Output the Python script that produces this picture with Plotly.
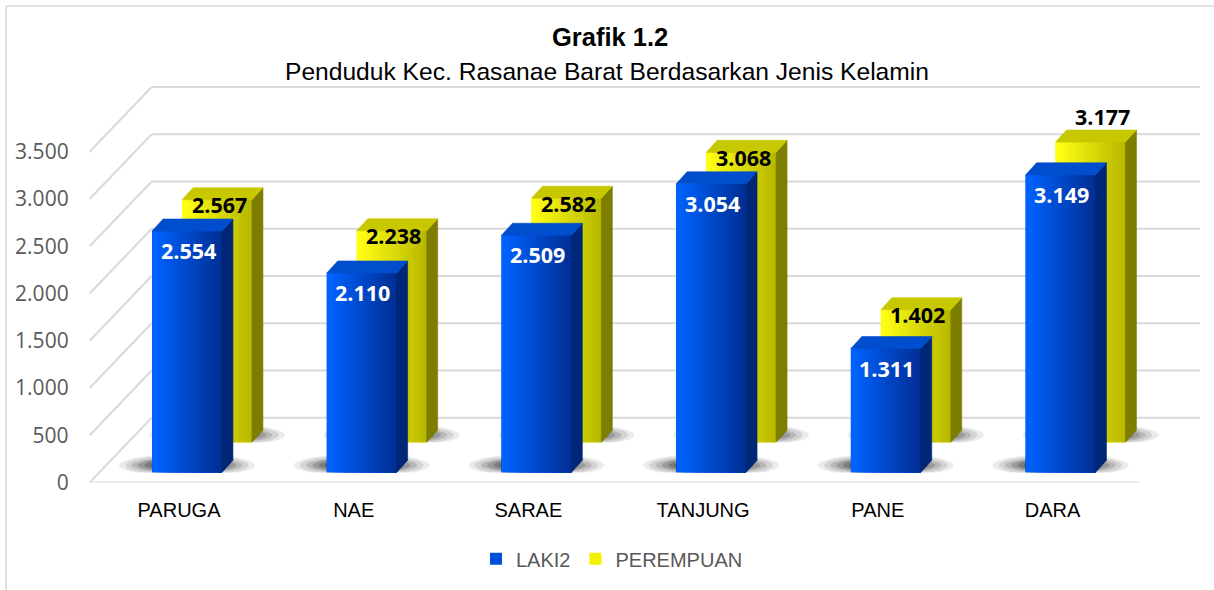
import plotly.graph_objects as go

# ---------------- data ----------------
categories = ["PARUGA", "NAE", "SARAE", "TANJUNG", "PANE", "DARA"]
laki2 = [2554, 2110, 2509, 3054, 1311, 3149]
perempuan = [2567, 2238, 2582, 3068, 1402, 3177]
y_ticks = [0, 500, 1000, 1500, 2000, 2500, 3000, 3500]

title_main = "Grafik 1.2"
title_sub = "Penduduk Kec. Rasanae Barat Berdasarkan Jenis Kelamin"

# ---------------- layout geometry (reference pixels) ----------------
W, REF_H = 1214, 590
PAGE_H = 606              # page height that the photographed viewport covers
VS = PAGE_H / REF_H       # vertical pixel compensation

def fx(px):
    return px / W
def fy(px):
    return 1 - px / REF_H

CAT_PX = 174.7            # pixels per category
N = len(categories)
Y_MAX = 4500
Y_SPAN_PX = 423           # reference pixels for 0..Y_MAX
PX_PER_UNIT = Y_SPAN_PX / Y_MAX

front_left = 91.65        # front plane x domain start
blue_dx, blue_base = 8, 470
yel_dx, yel_base = 38, 440
front_base = 480
WALL_DX, WALL_DY = 62, 63
BAR_W = 0.40
DEPTH_X = 11 / CAT_PX       # bar depth in category units
DEPTH_Y = 12 / PX_PER_UNIT  # bar depth in value units

def xdom(left):
    return [fx(left), fx(left + CAT_PX * N)]
def ydom(base):
    return [fy(base), fy(base - Y_SPAN_PX)]

NARROW = "Liberation Sans Narrow, Arial Narrow, Liberation Sans, Arial, sans-serif"
LBL = "Open Sans, Lato, sans-serif"

idx = list(range(N))

fig = go.Figure()
# yellow on x2/y2 (drawn first = behind), blue on x3/y3
fig.add_trace(go.Bar(x=idx, y=perempuan, name="PEREMPUAN", xaxis="x2", yaxis="y2",
                     width=BAR_W, marker=dict(color="#f2f200", line=dict(width=0)),
                     legendrank=2, hoverinfo="y"))
fig.add_trace(go.Bar(x=idx, y=laki2, name="LAKI2", xaxis="x3", yaxis="y3",
                     width=BAR_W, marker=dict(color="#0050d8", line=dict(width=0)),
                     legendrank=1, hoverinfo="y"))

shapes = []
GRID = "#d9d9d9"
# gridlines: left wall diagonal + back wall horizontal
for v in y_ticks:
    shapes.append(dict(type="line", layer="below", xref="paper", yref="y",
                       x0=fx(front_left - 2), x1=fx(front_left - 2 + WALL_DX),
                       ysizemode="pixel", yanchor=v, y0=0, y1=WALL_DY * VS,
                       line=dict(color=GRID, width=2)))
    shapes.append(dict(type="line", layer="below", xref="paper", yref="y",
                       x0=fx(front_left - 2 + WALL_DX), x1=fx(1200),
                       ysizemode="pixel", yanchor=v, y0=WALL_DY * VS, y1=WALL_DY * VS,
                       line=dict(color=GRID, width=2)))
# floor front edge
shapes.append(dict(type="line", layer="below", xref="paper", yref="y",
                   x0=fx(front_left - 2), x1=fx(front_left + CAT_PX * N),
                   y0=0, y1=0, line=dict(color=GRID, width=2)))
# chart border (only top and left edges are inside the picture)
shapes.append(dict(type="line", layer="below", xref="paper", yref="paper",
                   x0=fx(6), x1=1, y0=fy(6), y1=fy(6), line=dict(color="#d9d9d9", width=1.5)))
shapes.append(dict(type="line", layer="below", xref="paper", yref="paper",
                   x0=fx(6), x1=fx(6), y0=fy(6), y1=0, line=dict(color="#d9d9d9", width=1.5)))


def lerp(c1, c2, t):
    return "rgb(%d,%d,%d)" % tuple(round(a + (b - a) * t) for a, b in zip(c1, c2))


def bar3d(values, xr, yr, left_c, right_c, side_c, top_c):
    out = []
    half_px = BAR_W * CAT_PX / 2
    # soft shadows on the floor
    layers = [(1.08, -4, 18, 0.08), (0.98, -3, 17, 0.10), (0.88, -1, 15, 0.13),
              (0.78, 0, 14, 0.16), (0.68, 1, 13, 0.2), (0.58, 2, 12, 0.24)]
    for i, v in enumerate(values):
        for wf, h0, h1, op in layers:
            out.append(dict(type="circle", layer="above", xref=xr, yref=yr,
                            xsizemode="pixel", xanchor=i, x0=-half_px * 1.8 * wf, x1=half_px * 1.8 * wf,
                            ysizemode="pixel", yanchor=0, y0=h0 * VS, y1=h1 * VS,
                            fillcolor="rgba(0,0,0,%.2f)" % op, line=dict(width=0)))
    NS = 16
    for i, v in enumerate(values):
        xl, xrr = i - BAR_W / 2, i + BAR_W / 2
        # front face: horizontal gradient made of overlapping strips
        for k in range(NS):
            c = lerp(left_c, right_c, k / (NS - 1))
            out.append(dict(type="rect", layer="above", xref=xr, yref=yr,
                            x0=xl + k * BAR_W / NS, x1=xrr,
                            y0=0, y1=v, fillcolor=c, line=dict(width=0)))
        # side face
        out.append(dict(type="path", layer="above", xref=xr, yref=yr,
                        path=f"M {xrr},0 L {xrr + DEPTH_X},{DEPTH_Y} L {xrr + DEPTH_X},{v + DEPTH_Y} L {xrr},{v} Z",
                        fillcolor=side_c, line=dict(color=side_c, width=0.6)))
        # top face
        out.append(dict(type="path", layer="above", xref=xr, yref=yr,
                        path=f"M {xl},{v} L {xrr},{v} L {xrr + DEPTH_X},{v + DEPTH_Y} L {xl + DEPTH_X},{v + DEPTH_Y} Z",
                        fillcolor=top_c, line=dict(color=top_c, width=0.6)))
    return out

shapes += bar3d(perempuan, "x2", "y2", (255, 255, 20), (185, 185, 0), "rgb(125,125,0)", "rgb(200,200,0)")
shapes += bar3d(laki2, "x3", "y3", (0, 98, 255), (0, 48, 150), "rgb(0,38,120)", "rgb(0,78,205)")


def fmt(v):
    return f"{v:,}".replace(",", ".")

annotations = []
top_yel = max(perempuan)
for i, v in enumerate(perempuan):
    above = v == top_yel
    annotations.append(dict(x=i, y=v, xref="x2", yref="y2", text=fmt(v), showarrow=False,
                            xshift=12 if above else 2, yshift=(25 if above else -5) * VS,
                            font=dict(family=LBL, size=21.5, color="black", weight="bold")))
for i, v in enumerate(laki2):
    annotations.append(dict(x=i, y=v, xref="x3", yref="y3", text=fmt(v), showarrow=False,
                            xshift=1, yshift=-19 * VS,
                            font=dict(family=LBL, size=21.5, color="white", weight="bold")))
# title
annotations.append(dict(x=fx(610), y=fy(37), xref="paper", yref="paper", text="<b>" + title_main + "</b>",
                        showarrow=False, xanchor="center", yanchor="middle",
                        font=dict(family=NARROW, size=25.5, color="black")))
annotations.append(dict(x=fx(607), y=fy(71), xref="paper", yref="paper", text=title_sub,
                        showarrow=False, xanchor="center", yanchor="middle",
                        font=dict(family=NARROW, size=24.6, color="black")))

fig.update_layout(
    width=W, height=PAGE_H,
    margin=dict(l=0, r=0, t=0, b=0),
    paper_bgcolor="white", plot_bgcolor="rgba(0,0,0,0)",
    separators=",.",
    barmode="overlay",
    showlegend=True,
    legend=dict(orientation="h", x=fx(612), xanchor="center", y=fy(556), yanchor="middle",
                font=dict(family=NARROW, size=20, color="#595959"), traceorder="normal"),
    xaxis=dict(domain=xdom(front_left), range=[-0.5, N - 0.5], type="linear",
               tickvals=idx, ticktext=categories, showgrid=False, zeroline=False,
               showline=False, ticks="", ticklabelstandoff=round(14 * VS),
               tickfont=dict(family=NARROW, size=20, color="black"), anchor="y", fixedrange=True),
    yaxis=dict(domain=ydom(front_base), range=[0, Y_MAX], tickvals=y_ticks, tickformat=",d",
               showgrid=False, zeroline=False, showline=False, ticks="", ticklabelstandoff=22,
               tickfont=dict(family=LBL, size=21, color="#595959"), anchor="x", fixedrange=True),
    xaxis2=dict(domain=xdom(front_left + yel_dx), range=[-0.5, N - 0.5], visible=False, anchor="y2"),
    yaxis2=dict(domain=ydom(yel_base), range=[0, Y_MAX], visible=False, anchor="x2"),
    xaxis3=dict(domain=xdom(front_left + blue_dx), range=[-0.5, N - 0.5], visible=False, anchor="y3"),
    yaxis3=dict(domain=ydom(blue_base), range=[0, Y_MAX], visible=False, anchor="x3"),
    shapes=shapes,
    annotations=annotations,
)

PAGE_FIX = """
(function(){
  var s = document.createElement('style');
  s.textContent = 'html,body{margin:0;padding:0;overflow:hidden;}';
  document.head.appendChild(s);
})();
"""
fig.write_html("out.html", config={"displayModeBar": False}, post_script=PAGE_FIX)
